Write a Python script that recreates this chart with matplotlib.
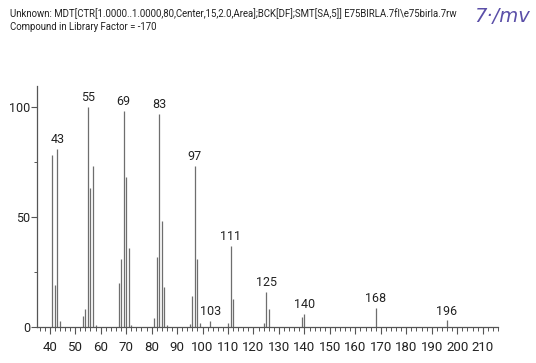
import matplotlib
matplotlib.use("Agg")
import matplotlib.pyplot as plt
from matplotlib.ticker import MultipleLocator

# Mass spectrum peaks (m/z, relative abundance)
mz = [41, 42, 43, 44, 53, 54, 55, 56, 57, 58,
      67, 68, 69, 70, 71, 72, 81, 82, 83, 84, 85, 86,
      95, 96, 97, 98, 99, 103, 110, 111, 112,
      124, 125, 126, 139, 140, 168, 196]
abundance = [78, 19, 81, 2.5, 5, 8, 100, 63, 73, 1,
             20, 31, 98, 68, 36, 1, 4, 32, 97, 48, 18, 1,
             1.5, 14, 73, 31, 2, 2.6, 2, 37, 12.5,
             2, 16, 8, 4.5, 6, 8.5, 3]
labelled = [43, 55, 69, 83, 97, 103, 111, 125, 140, 168, 196]

header1 = ("Unknown: MDT[CTR[1.0000..1.0000,80,Center,15,2.0,Area];BCK[DF];"
           "SMT[SA,5]] E75BIRLA.7fl\\e75birla.7rw")
header2 = "Compound in Library Factor = -170"
note = "7·/mv"

plt.rcParams["font.family"] = ["Roboto", "DejaVu Sans"]

W, H = 536, 363
fig = plt.figure(figsize=(W / 100, H / 100), dpi=100)
ax = fig.add_axes([37 / W, 1 - 327 / H, 461 / W, 241 / H])

line_color = "#6e6e6e"
ax.vlines(mz, 0, abundance, colors=line_color, linewidth=0.9)

abund = dict(zip(mz, abundance))
for m in labelled:
    ax.text(m, abund[m] + 1.3, str(m), ha="center", va="bottom",
            fontsize=9, color="#222222")

ax.set_xlim(35, 216)
ax.set_ylim(0, 109.5)

for side in ("top", "right"):
    ax.spines[side].set_visible(False)
for side in ("left", "bottom"):
    ax.spines[side].set_color("#555555")
    ax.spines[side].set_linewidth(0.9)

ax.set_xticks(range(40, 211, 10))
ax.xaxis.set_minor_locator(MultipleLocator(2))
ax.yaxis.set_major_locator(MultipleLocator(50))
ax.yaxis.set_minor_locator(MultipleLocator(25))

ax.tick_params(axis="x", which="major", length=5, width=0.8, color="#555555",
               labelsize=9.5, labelcolor="#222222", pad=5)
ax.tick_params(axis="x", which="minor", length=3, width=0.7, color="#555555")
ax.tick_params(axis="y", which="major", length=4, width=0.8, color="#555555",
               labelsize=9, labelcolor="#222222", pad=1)
ax.tick_params(axis="y", which="minor", length=2, width=0.7, color="#555555")

# Header lines, sized so the first line spans its printed width
t1 = fig.text(10 / W, 1 - 14 / H, header1, fontsize=9, color="#222222",
              va="center", ha="left")
t2 = fig.text(10 / W, 1 - 27 / H, header2, fontsize=9, color="#222222",
              va="center", ha="left")
fig.canvas.draw()
r = fig.canvas.get_renderer()
w1 = t1.get_window_extent(r).width
size = 9 * 452 / w1
t1.set_fontsize(size)
t2.set_fontsize(size)

fig.text(474 / W, 1 - 16 / H, note, fontsize=14, color="#5b4fa8",
         style="italic", va="center", ha="left", family=["DejaVu Sans"])

fig.savefig("out.png", dpi=100)
